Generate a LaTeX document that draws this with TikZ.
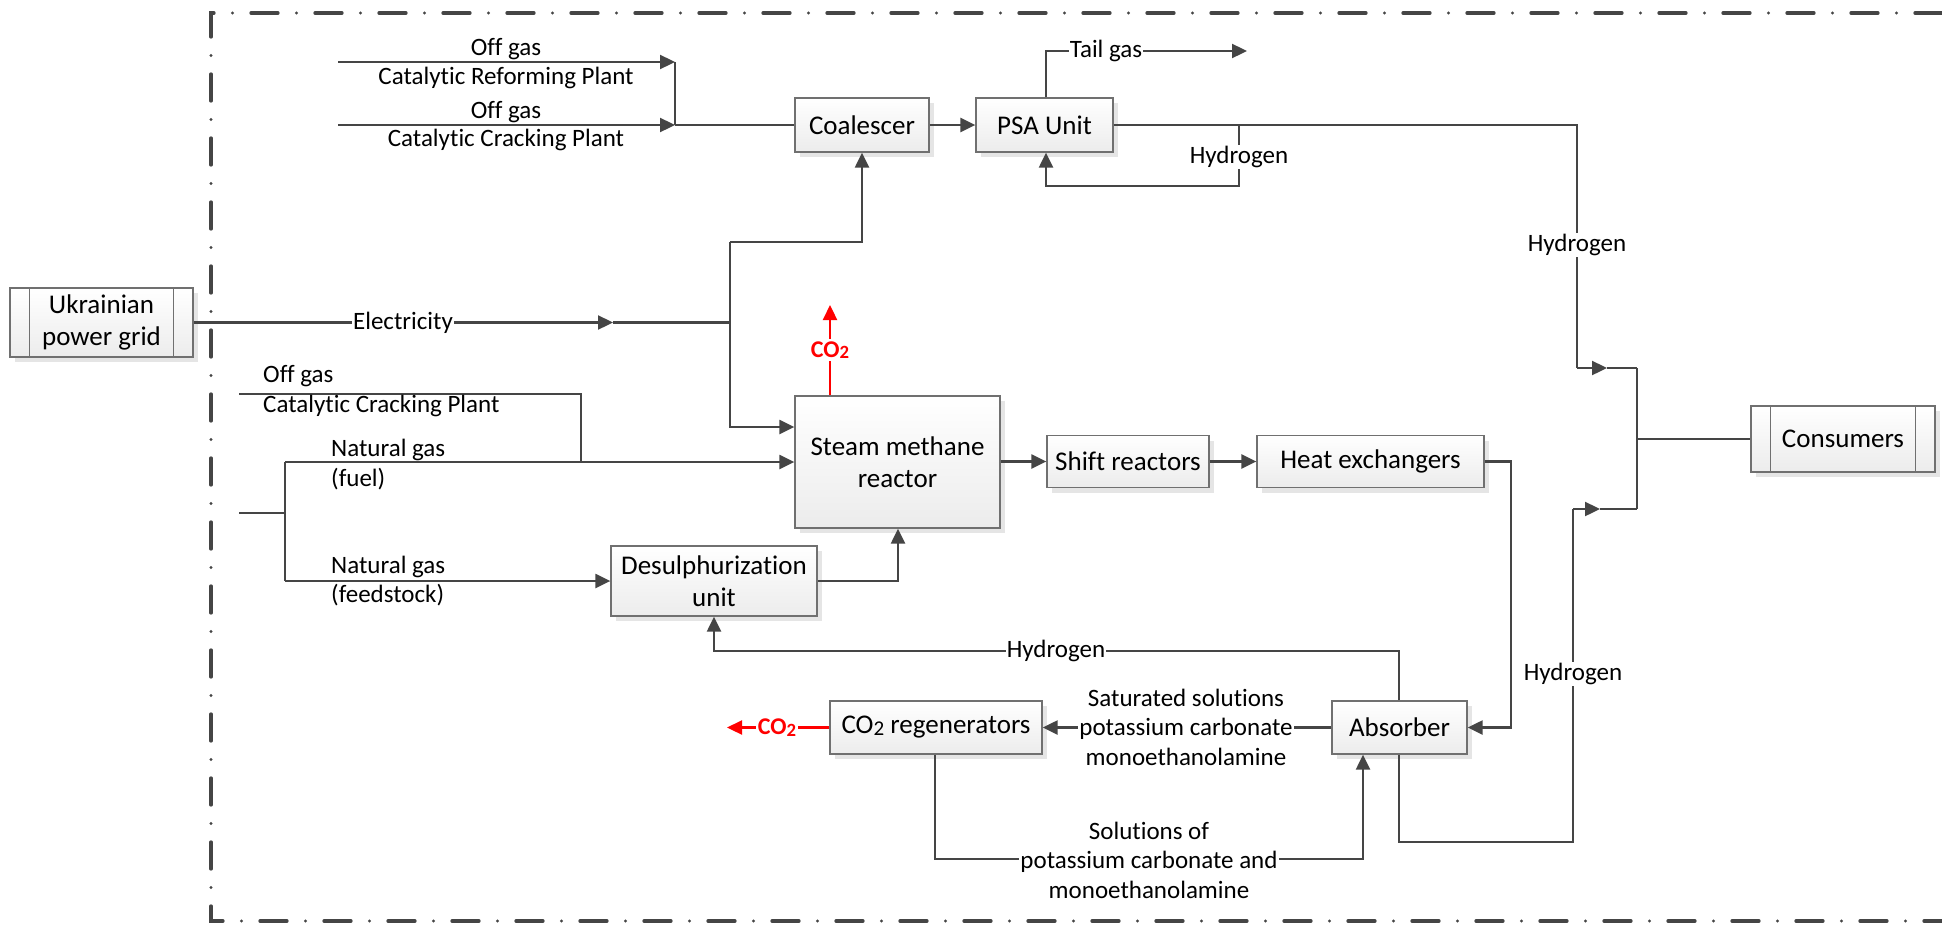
\documentclass[tikz,border=0pt]{standalone}
\usepackage{fontspec}
\setmainfont{Carlito}[Ligatures={NoCommon,NoContextual}]
\usetikzlibrary{arrows.meta,shadows}
\definecolor{ln}{HTML}{454545}
\definecolor{bx}{HTML}{707070}
\newcommand{\cotwo}{CO\raisebox{-1.5pt}{\scalebox{0.78}{2}}}
\tikzset{
 box/.style={draw=bx, line width=1.3pt, top color=white, bottom color=gray!15,
   drop shadow={shadow xshift=5pt, shadow yshift=-5pt, fill=gray!20, opacity=1},
   inner sep=0pt, font=\fontsize{27}{32}\selectfont, align=center},
 flow/.style={draw=ln, line width=2.3pt, -{Triangle[length=15pt,width=14pt]}},
 wire/.style={draw=ln, line width=2.3pt},
 lbl/.style={font=\fontsize{25}{29.5}\selectfont, inner sep=1pt, align=center},
 onl/.style={lbl, fill=white},
 redflow/.style={draw=red, line width=2.3pt, -{Triangle[length=15pt,width=14pt]}},
 redlbl/.style={font=\fontsize{24}{24}\selectfont\bfseries, text=red, fill=white, inner sep=2pt},
 frm/.style={draw=ln, line width=3.3pt, line cap=round, dash pattern=on 27pt off 18.5pt on 0pt off 18.5pt},
 inner/.style={draw=bx, line width=1.3pt},
}
\begin{document}
\begin{tikzpicture}[x=1pt,y=-1pt]
\useasboundingbox (0,0) rectangle (1942,924);
% frame
\draw[frm] (1942,13) -- (211,13) -- (211,921) -- (1942,921);

% boxes
\node[box, minimum width=183pt, minimum height=69pt] (grid) at (101.5,322.5) {Ukrainian\\power grid};
\node[box, minimum width=134pt, minimum height=54pt] (coal) at (862,125) {Coalescer};
\node[box, minimum width=137pt, minimum height=54pt] (psa) at (1044.5,125) {PSA Unit};
\node[box, minimum width=205pt, minimum height=132pt] (smr) at (897.5,462) {Steam methane\\reactor};
\node[box, minimum width=162pt, minimum height=52pt] (shift) at (1128,461.5) {Shift reactors};
\node[box, minimum width=227pt, minimum height=52pt] (heat) at (1370.5,461.5) {Heat exchangers};
\node[box, minimum width=206pt, minimum height=70pt] (desul) at (714,581) {Desulphurization\\unit};
\node[box, minimum width=212pt, minimum height=53pt] (regen) at (936,727.5) {\cotwo{} regenerators};
\node[box, minimum width=135pt, minimum height=53pt] (abs) at (1399.5,727.5) {Absorber};
\node[box, minimum width=184pt, minimum height=66pt] (cons) at (1843,439) {Consumers};
\draw[inner] ([xshift=20pt]grid.north west) -- ([xshift=20pt]grid.south west);
\draw[inner] ([xshift=-20pt]grid.north east) -- ([xshift=-20pt]grid.south east);
\draw[inner] ([xshift=20pt]cons.north west) -- ([xshift=20pt]cons.south west);
\draw[inner] ([xshift=-20pt]cons.north east) -- ([xshift=-20pt]cons.south east);

% coordinates
\coordinate (r1s) at (338,62);
\coordinate (r1e) at (675,62);
\coordinate (r2s) at (338,125);
\coordinate (r2e) at (675,125);
\coordinate (tg1) at (1046,51);
\coordinate (tg2) at (1247,51);
\coordinate (h1) at (1577,125);
\coordinate (h2) at (1577,368);
\coordinate (h3) at (1607,368);
\coordinate (m1) at (1637,368);
\coordinate (m2) at (1637,509);
\coordinate (m3) at (1637,439);
\coordinate (lp1) at (1239,125);
\coordinate (lp2) at (1239,186);
\coordinate (lp3) at (1046,186);
\coordinate (eA) at (613,322.5);
\coordinate (jE) at (730,322.5);
\coordinate (jT) at (730,242);
\coordinate (jC) at (862,242);
\coordinate (jS) at (730,427);
\coordinate (co2a) at (830,305);
\coordinate (og1) at (239,394);
\coordinate (og2) at (581,394);
\coordinate (og3) at (581,462);
\coordinate (ng0) at (239,513);
\coordinate (ng1) at (285,513);
\coordinate (ngF) at (285,462);
\coordinate (ngD) at (285,581);
\coordinate (ds1) at (898,581);
\coordinate (hx1) at (1511,461.5);
\coordinate (hx2) at (1511,727.5);
\coordinate (hy1) at (1399,651);
\coordinate (hy2) at (714,651);
\coordinate (rg1) at (935,859);
\coordinate (rg2) at (1363,859);
\coordinate (co2b) at (727,727.5);
\coordinate (ab1) at (1399,842);
\coordinate (ab2) at (1573,842);
\coordinate (ab3) at (1573,509);
\coordinate (ab4) at (1600,509);

% top inlets
\draw[flow] (r1s) -- (r1e);
\draw[flow] (r2s) -- (r2e);
\draw[wire] (r1e) -- (r2e);
\draw[wire] (r2e) -- (coal.west);
\node[lbl] at (506,49) {Off gas};
\node[lbl] at (506,78) {Catalytic Reforming Plant};
\node[lbl] at (506,112) {Off gas};
\node[lbl] at (506,140) {Catalytic Cracking Plant};

\draw[flow] (coal) -- (psa);
% tail gas
\draw[flow] (psa.north -| tg1) -- (tg1) -- (tg2);
\node[onl] at (1106,51) {Tail gas};
% hydrogen to consumers
\draw[wire] (psa.east) -- (h1) -- (h2);
\draw[flow] (h2) -- (h3);
\draw[wire] (h3) -- (m1);
\node[onl] at (1577,245) {Hydrogen};
% hydrogen loop
\draw[flow] (lp1) -- (lp2) -- (lp3) -- (psa.south -| lp3);
\node[onl] at (1239,157) {Hydrogen};

% electricity
\draw[flow] (grid.east) -- (eA);
\draw[wire] (eA) -- (jE);
\node[onl] at (403,322.5) {Electricity};
\draw[flow] (jT) -- (jC) -- (coal.south);
\draw[flow] (jT) -- (jS) -- (smr.west |- jS);

% CO2 from reactor
\draw[redflow] (smr.north -| co2a) -- (co2a);
\node[redlbl] at (830,350) {\cotwo};

% off gas left
\draw[wire] (og1) -- (og2) -- (og3);
\node[lbl, anchor=west] at (262,376) {Off gas};
\node[lbl, anchor=west] at (262,406) {Catalytic Cracking Plant};
% natural gas
\draw[wire] (ng0) -- (ng1);
\draw[wire] (ngF) -- (ngD);
\draw[flow] (ngF) -- (smr.west |- ngF);
\draw[flow] (ngD) -- (desul.west);
\node[lbl, anchor=west] at (330,450) {Natural gas};
\node[lbl, anchor=west] at (330,479) {(fuel)};
\node[lbl, anchor=west] at (330,567) {Natural gas};
\node[lbl, anchor=west] at (330,595) {(feedstock)};

% desulph to reactor
\draw[flow] (desul.east) -- (ds1) -- (smr.south -| ds1);
% chain
\draw[flow] (smr.east |- shift.west) -- (shift.west);
\draw[flow] (shift) -- (heat);
\draw[flow] (heat.east) -- (hx1) -- (hx2) -- (abs.east);
% hydrogen back to desulph
\draw[flow] (abs.north -| hy1) -- (hy1) -- (hy2) -- (desul.south -| hy2);
\node[onl] at (1056,651) {Hydrogen};
% absorber to regenerators
\draw[flow] (abs.west) -- (regen.east);
\node[onl] at (1186,727) {Saturated solutions\\potassium carbonate\\monoethanolamine};
% regenerators to absorber
\draw[flow] (regen.south -| rg1) -- (rg1) -- (rg2) -- (abs.south -| rg2);
\node[onl] at (1149,860) {Solutions of\\potassium carbonate and\\monoethanolamine};
% CO2 from regenerators
\draw[redflow] (regen.west) -- (co2b);
\node[redlbl] at (777,727.5) {\cotwo};
% absorber hydrogen to consumers
\draw[wire] (abs.south -| ab1) -- (ab1) -- (ab2) -- (ab3);
\draw[flow] (ab3) -- (ab4);
\draw[wire] (ab4) -- (m2);
\node[onl] at (1573,674) {Hydrogen};
% merge
\draw[wire] (m1) -- (m2);
\draw[wire] (m3) -- (cons.west);
\end{tikzpicture}
\end{document}
